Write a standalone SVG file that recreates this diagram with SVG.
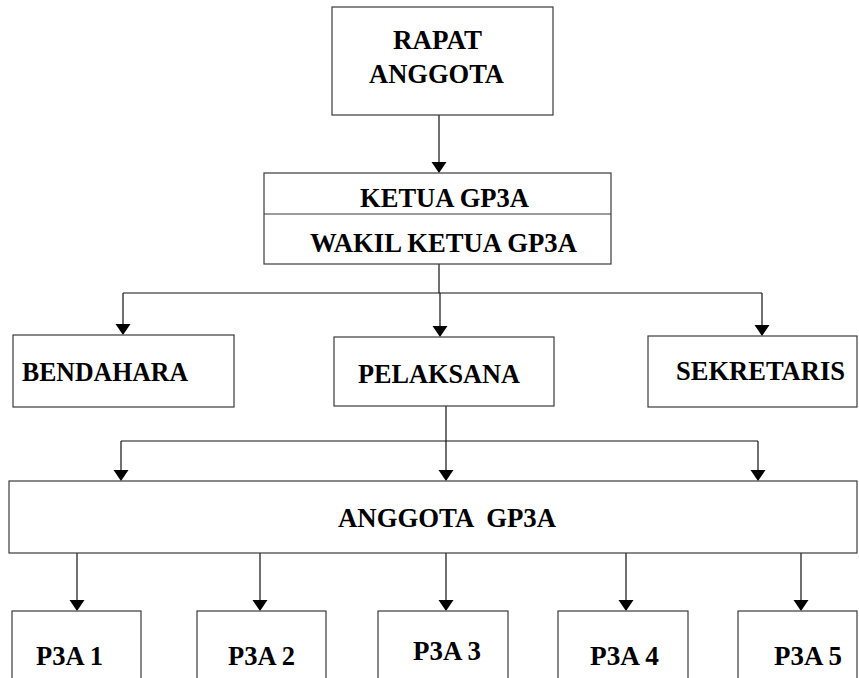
<svg xmlns="http://www.w3.org/2000/svg" width="859" height="678" viewBox="0 0 859 678">
<style>
.box{fill:#fff;stroke:#3a3a3a;stroke-width:1.2}
.t{font-family:"Liberation Serif","Times New Roman",serif;font-weight:bold;font-size:27px;fill:#000}
.c{fill:none;stroke:#111;stroke-width:1.2}
</style>
<rect width="859" height="678" fill="#fff"/>
<g id="connectors">
<path class="c" d="M439,115 V165"/>
<path class="c" d="M439,264 V293"/>
<path class="c" d="M123,293 H762"/>
<path class="c" d="M123,293 V327"/>
<path class="c" d="M440,293 V329"/>
<path class="c" d="M762,293 V328"/>
<path class="c" d="M446,406 V441"/>
<path class="c" d="M121,441 H758"/>
<path class="c" d="M121,441 V473"/>
<path class="c" d="M446,441 V473"/>
<path class="c" d="M758,441 V473"/>
<path class="c" d="M77,553 V603"/>
<path class="c" d="M260,553 V603"/>
<path class="c" d="M446,553 V603"/>
<path class="c" d="M626,553 V603"/>
<path class="c" d="M801,553 V603"/>
<g fill="#000">
<polygon points="431.5,162 446.5,162 439,173"/>
<polygon points="115.5,324 130.5,324 123,335"/>
<polygon points="432.5,326 447.5,326 440,337"/>
<polygon points="754.5,325 769.5,325 762,336"/>
<polygon points="113.5,470 128.5,470 121,481"/>
<polygon points="438.5,470 453.5,470 446,481"/>
<polygon points="750.5,470 765.5,470 758,481"/>
<polygon points="69.5,600 84.5,600 77,611"/>
<polygon points="252.5,600 267.5,600 260,611"/>
<polygon points="438.5,600 453.5,600 446,611"/>
<polygon points="618.5,600 633.5,600 626,611"/>
<polygon points="793.5,600 808.5,600 801,611"/>
</g>
</g>
<g id="rapat">
<rect class="box" x="332" y="7" width="221" height="108"/>
<text class="t" x="393" y="49" textLength="89" lengthAdjust="spacingAndGlyphs">RAPAT</text>
<text class="t" x="369" y="83" textLength="135" lengthAdjust="spacingAndGlyphs">ANGGOTA</text>
</g>
<g id="ketua">
<rect class="box" x="264" y="173" width="347" height="91"/>
<line class="box" x1="264" y1="214" x2="611" y2="214"/>
<text class="t" x="360" y="207" textLength="169" lengthAdjust="spacingAndGlyphs">KETUA GP3A</text>
<text class="t" x="310" y="252" textLength="267" lengthAdjust="spacingAndGlyphs">WAKIL KETUA GP3A</text>
</g>
<g id="bendahara">
<rect class="box" x="13" y="335" width="221" height="72"/>
<text class="t" x="22" y="381" textLength="166" lengthAdjust="spacingAndGlyphs">BENDAHARA</text>
</g>
<g id="pelaksana">
<rect class="box" x="334" y="337" width="220" height="69"/>
<text class="t" x="358" y="383" textLength="162" lengthAdjust="spacingAndGlyphs">PELAKSANA</text>
</g>
<g id="sekretaris">
<rect class="box" x="648" y="336" width="209" height="71"/>
<text class="t" x="676" y="380" textLength="169" lengthAdjust="spacingAndGlyphs">SEKRETARIS</text>
</g>
<g id="anggota">
<rect class="box" x="9" y="481" width="848" height="72"/>
<text class="t" x="338" y="527" textLength="218" lengthAdjust="spacingAndGlyphs" xml:space="preserve">ANGGOTA  GP3A</text>
</g>
<g id="p3a1">
<rect class="box" x="12" y="611" width="129" height="80"/>
<text class="t" x="36" y="665" textLength="67" lengthAdjust="spacingAndGlyphs">P3A 1</text>
</g>
<g id="p3a2">
<rect class="box" x="197" y="611" width="129" height="80"/>
<text class="t" x="228" y="665" textLength="67" lengthAdjust="spacingAndGlyphs">P3A 2</text>
</g>
<g id="p3a3">
<rect class="box" x="378" y="611" width="130" height="80"/>
<text class="t" x="413" y="660" textLength="68" lengthAdjust="spacingAndGlyphs">P3A 3</text>
</g>
<g id="p3a4">
<rect class="box" x="558" y="611" width="130" height="80"/>
<text class="t" x="590" y="665" textLength="69" lengthAdjust="spacingAndGlyphs">P3A 4</text>
</g>
<g id="p3a5">
<rect class="box" x="738" y="611" width="119" height="80"/>
<text class="t" x="774" y="665" textLength="68" lengthAdjust="spacingAndGlyphs">P3A 5</text>
</g>
</svg>
